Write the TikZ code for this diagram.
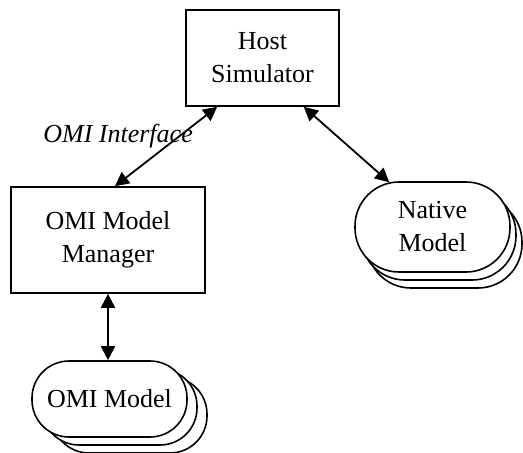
\documentclass[tikz,border=0pt]{standalone}
\usepackage{fontspec}
\setmainfont{Liberation Serif}
\usetikzlibrary{arrows.meta,shadows}

\begin{document}
\begin{tikzpicture}[x=1pt,y=-1pt,
  txt/.style={font=\fontsize{26}{33}\selectfont,align=center,inner sep=0pt},
  box/.style={txt,draw,line width=1.6pt,fill=white},
  model/.style={box,rounded corners=#1},
  arr/.style={{Triangle[length=14pt,width=14pt]}-{Triangle[length=14pt,width=14pt]},line width=1.8pt}]
\useasboundingbox (0,0) rectangle (523,453);
\node[box,minimum width=153pt,minimum height=96pt] (host) at (262.5,58) {Host\\Simulator};
\node[box,minimum width=194pt,minimum height=106pt] (mgr) at (108,240) {OMI Model\\Manager};
\node[model=37pt,minimum width=155pt,minimum height=76pt,
  double copy shadow={shadow xshift=10pt,shadow yshift=-8pt,draw,fill=white,line width=1.6pt}]
  (omi) at (109.5,399) {OMI Model};
\node[model=44pt,minimum width=155pt,minimum height=90pt,
  double copy shadow={shadow xshift=6pt,shadow yshift=-8pt,draw,fill=white,line width=1.6pt}]
  (nat) at (432.5,227) {Native\\Model};
\node[txt,font=\fontsize{26}{33}\selectfont\itshape,anchor=east] (ifc) at (193,136) {OMI Interface};
\draw[arr] ([xshift=32pt]host.south west) -- ([xshift=7pt]mgr.north);
\draw[arr] ([xshift=-36pt]host.south east) -- ([xshift=35pt,yshift=-1pt]nat.north west);
\draw[arr] (mgr.south) -- (omi.north -| mgr.south);
\end{tikzpicture}
\end{document}
